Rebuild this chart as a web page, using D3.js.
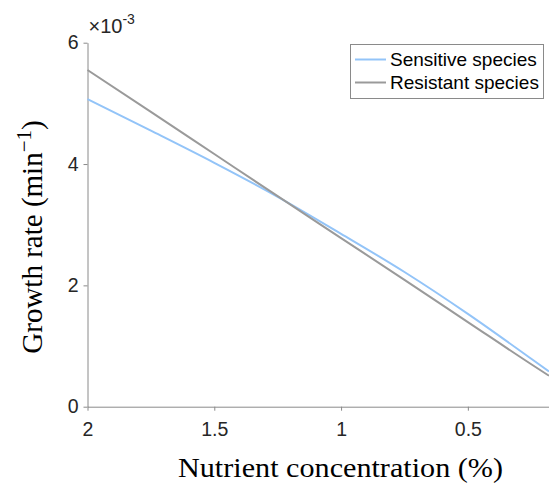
<!DOCTYPE html>
<html>
<head>
<meta charset="utf-8">
<script src="https://cdn.jsdelivr.net/npm/d3@7"></script>
<style>
  body { margin: 0; background: #fff; }
  svg { display: block; }
</style>
</head>
<body>
<div id="chart"></div>
<script>
// values (y in units of 1e-3 per min)
const concentration = [2, 1.75, 1.5, 1.25, 1, 0.75, 0.5, 0.25, 0.18];
const sensitiveRate = [5.07, 4.55, 4.02, 3.46, 2.85, 2.22, 1.53, 0.79, 0.58];
const resistantRate = [5.55, 4.86, 4.165, 3.47, 2.78, 2.09, 1.395, 0.70, 0.51];
const xTicks = [2, 1.5, 1, 0.5];
const yTicks = [0, 2, 4, 6];
const seriesNames = ["Sensitive species", "Resistant species"];
const seriesColors = ["#93c4f8", "#9a9a9a"];

const width = 549,
    height = 491,
    margin = { top: 42.7, right: 0, bottom: 84.3, left: 87.5 };

const svg = d3.select("#chart")
    .append("svg")
    .attr("width", width)
    .attr("height", height);

const x = d3.scaleLinear()
    .domain([2, 0.18])
    .range([margin.left, width - margin.right]);

const y = d3.scaleLinear()
    .domain([0, 6])
    .range([height - margin.bottom, margin.top]);

const tickFont = "'Liberation Sans', Arial, sans-serif";
const labelFont = "'Liberation Serif', 'Times New Roman', serif";

// x axis
const xAxis = svg.append("g")
    .attr("transform", `translate(0,${y(0)})`)
    .call(d3.axisBottom(x).tickValues(xTicks).tickFormat(d3.format("")).tickSize(4).tickSizeOuter(0));
// y axis
const yAxis = svg.append("g")
    .attr("transform", `translate(${x(2)},0)`)
    .call(d3.axisLeft(y).tickValues(yTicks).tickFormat(d3.format("d")).tickSize(4).tickSizeOuter(0));

[xAxis, yAxis].forEach(g => {
    g.select(".domain").attr("stroke", "#8a8a8a").attr("stroke-width", 1);
    g.selectAll(".tick line").attr("stroke", "#8a8a8a");
    g.selectAll(".tick text")
        .attr("fill", "#262626")
        .style("font-family", tickFont)
        .style("font-size", "19.5px");
});
xAxis.selectAll(".tick text").attr("dy", "1.15em");
yAxis.selectAll(".tick text").attr("x", -9);

// exponent label
const expo = svg.append("text")
    .attr("x", x(2) + 1)
    .attr("y", 33)
    .attr("fill", "#262626")
    .style("font-family", tickFont)
    .style("font-size", "20px");
expo.append("tspan").text("×10");
expo.append("tspan").attr("dy", -9).style("font-size", "14px").text("-3");

// lines
const line = d3.line()
    .x((d, i) => x(concentration[i]))
    .y(d => y(d))
    .curve(d3.curveMonotoneX);

[sensitiveRate, resistantRate].forEach((vals, k) => {
    svg.append("path")
        .datum(vals)
        .attr("fill", "none")
        .attr("stroke", seriesColors[k])
        .attr("stroke-width", 2)
        .attr("d", line);
});

// axis titles
svg.append("text")
    .attr("x", 340.5)
    .attr("y", 477)
    .attr("text-anchor", "middle")
    .attr("fill", "#000")
    .attr("textLength", 325)
    .attr("lengthAdjust", "spacingAndGlyphs")
    .style("font-family", labelFont)
    .style("font-size", "27px")
    .text("Nutrient concentration (%)");

const yl = svg.append("text")
    .attr("transform", "translate(42,237) rotate(-90)")
    .attr("text-anchor", "middle")
    .attr("fill", "#000")
    .style("font-family", labelFont)
    .style("font-size", "29px");
yl.append("tspan").text("Growth rate (min");
yl.append("tspan").attr("dy", -11).style("font-size", "21px").text("−1");
yl.append("tspan").attr("dy", 11).text(")");

// legend
const legend = svg.append("g");
legend.append("rect")
    .attr("x", 350.5)
    .attr("y", 44.5)
    .attr("width", 193)
    .attr("height", 54)
    .attr("fill", "#fff")
    .attr("stroke", "#8a8a8a")
    .attr("stroke-width", 1);

seriesNames.forEach((name, i) => {
    const cy = 59.5 + i * 23;
    legend.append("line")
        .attr("x1", 355).attr("x2", 386)
        .attr("y1", cy).attr("y2", cy)
        .attr("stroke", seriesColors[i])
        .attr("stroke-width", 2);
    legend.append("text")
        .attr("x", 390)
        .attr("y", cy)
        .attr("dy", "0.35em")
        .attr("fill", "#000")
        .style("font-family", tickFont)
        .style("font-size", "19px")
        .text(name);
});
</script>
</body>
</html>
